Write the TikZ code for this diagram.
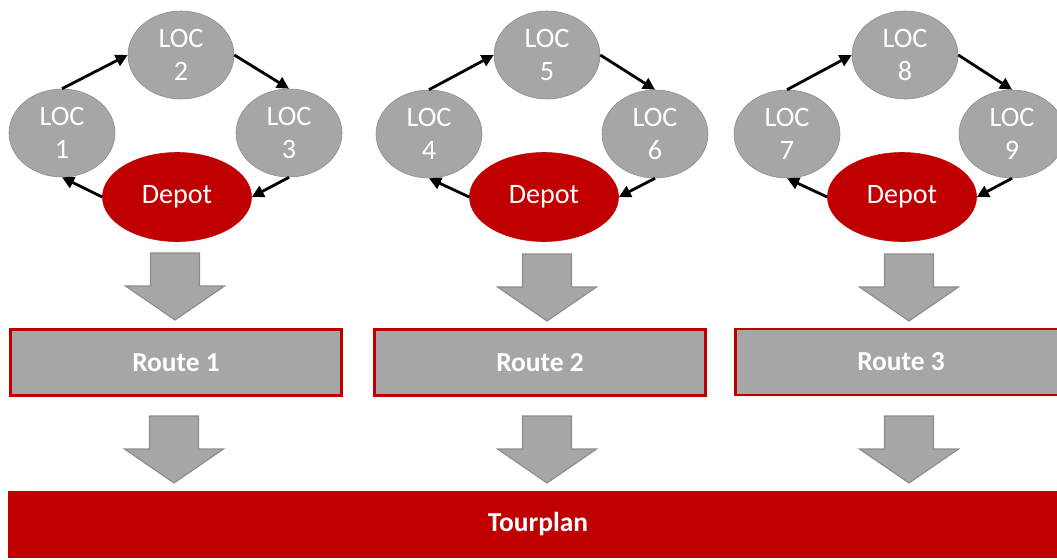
\documentclass[tikz,border=0pt]{standalone}
\usepackage{fontspec}
\setmainfont{Carlito}
\usetikzlibrary{shapes.geometric,arrows.meta}
\definecolor{darkred}{HTML}{C00000}
\definecolor{midgray}{HTML}{A6A6A6}
\definecolor{edgegray}{HTML}{8C8C8C}
\begin{document}
\begin{tikzpicture}[x=0.025cm, y=-0.025cm,
    loc/.style={ellipse, draw=edgegray, fill=midgray, text=white, minimum width=2.65cm, minimum height=2.2cm, inner sep=0pt, align=center, font=\fontsize{20}{23.5}\selectfont},
    depot/.style={ellipse, draw=darkred, fill=darkred, text=white, minimum width=3.725cm, minimum height=2.225cm, inner sep=0pt, font=\fontsize{20}{23.5}\selectfont},
    route/.style={rectangle, draw=darkred, line width=2pt, fill=midgray, text=white, minimum width=8.28cm, minimum height=1.65cm, font=\fontsize{19.5}{23}\selectfont\bfseries},
    link/.style={-{Triangle[length=3mm,width=3mm]}, line width=2pt},
    downarrow/.pic={\draw[draw=edgegray, fill=midgray, line width=0.8pt] (-24.5,0) -- (24.5,0) -- (24.5,33) -- (49.5,33) -- (0,67) -- (-49.5,33) -- (-24.5,33) -- cycle;}]
    \clip (0,0) rectangle (1057,559);

    % route 1
    \node[loc] (l1) at (62,133) {LOC\\1};
    \node[loc] (l2) at (181,55) {LOC\\2};
    \node[loc] (l3) at (289,133) {LOC\\3};
    \node[depot] (d1) at (177,197) {Depot};
    \draw[link] (l1.north) -- (l2.west);
    \draw[link] (l2.east) -- (l3.north);
    \draw[link] (l3.south) -- (d1.east);
    \draw[link] (d1.west) -- (l1.south);
    \pic at (175,253) {downarrow};
    \node[route] (r1) at (176,362.5) {Route 1};
    \pic at (174,416) {downarrow};

    % route 2
    \node[loc] (l4) at (429,134) {LOC\\4};
    \node[loc] (l5) at (547,55) {LOC\\5};
    \node[loc] (l6) at (655,134) {LOC\\6};
    \node[depot] (d2) at (544,197) {Depot};
    \draw[link] (l4.north) -- (l5.west);
    \draw[link] (l5.east) -- (l6.north);
    \draw[link] (l6.south) -- (d2.east);
    \draw[link] (d2.west) -- (l4.south);
    \pic at (547,254) {downarrow};
    \node[route] (r2) at (540,362.5) {Route 2};
    \pic at (547,416) {downarrow};

    % route 3
    \node[loc] (l7) at (787,134) {LOC\\7};
    \node[loc] (l8) at (905,55) {LOC\\8};
    \node[loc] (l9) at (1012,134) {LOC\\9};
    \node[depot] (d3) at (902,197) {Depot};
    \draw[link] (l7.north) -- (l8.west);
    \draw[link] (l8.east) -- (l9.north);
    \draw[link] (l9.south) -- (d3.east);
    \draw[link] (d3.west) -- (l7.south);
    \pic at (909,254) {downarrow};
    \node[route] (r3) at (901,362) {Route 3};
    \pic at (909,416) {downarrow};

    \node[rectangle, fill=darkred, text=white, minimum width=26.5cm, minimum height=1.675cm, font=\fontsize{19.5}{23}\selectfont\bfseries] (plan) at (538,524.5) {Tourplan};
\end{tikzpicture}
\end{document}
